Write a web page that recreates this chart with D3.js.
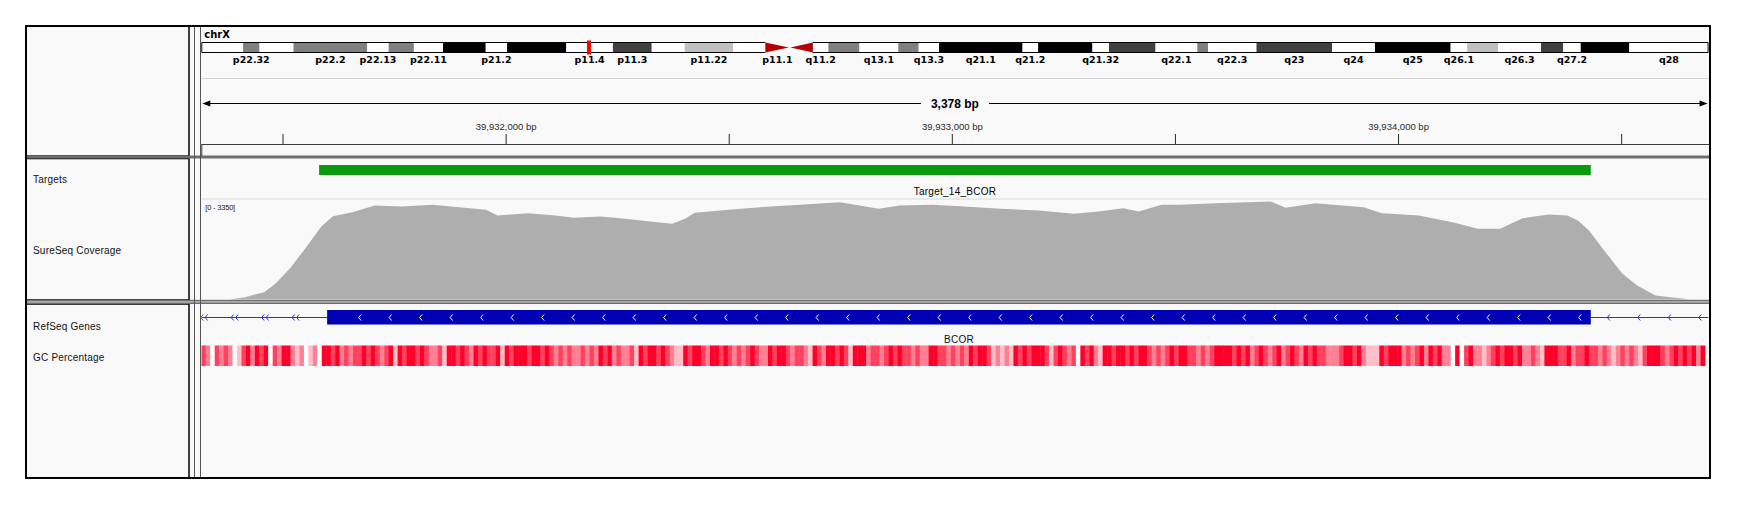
<!DOCTYPE html>
<html>
<head>
<meta charset="utf-8">
<script src="https://cdn.jsdelivr.net/npm/d3@7"></script>
<style>
    body { margin: 0; background: #ffffff; }
    text { font-family: "Liberation Sans", Arial, sans-serif; }
</style>
</head>
<body>
<svg id="IgvView" width="1740" height="505"></svg>
<script>
    // ---- locus ----
    let chromosome = "chrX";
    let chromosomeLength = 155270560;
    let viewStart = 39931318;
    let viewEnd = 39934696; // 3,378 bp
    let rulerTicks = [39931500, 39932000, 39932500, 39933000, 39933500, 39934000, 39934500];

    // ---- ideogram (hg19 chrX) ----
    let bandNames = ["p22.33", "p22.32", "p22.31", "p22.2", "p22.13", "p22.12", "p22.11", "p21.3", "p21.2", "p21.1",
        "p11.4", "p11.3", "p11.23", "p11.22", "p11.21", "p11.1", "q11.1", "q11.2", "q12", "q13.1",
        "q13.2", "q13.3", "q21.1", "q21.2", "q21.31", "q21.32", "q21.33", "q22.1", "q22.2", "q22.3",
        "q23", "q24", "q25", "q26.1", "q26.2", "q26.3", "q27.1", "q27.2", "q27.3", "q28"];
    let bandStartsMb = [0, 4.3, 6.0, 9.5, 17.1, 19.3, 21.9, 24.9, 29.3, 31.5,
        37.6, 42.4, 46.4, 49.8, 54.8, 58.1, 60.6, 63.0, 64.6, 67.8,
        71.8, 73.9, 76.0, 84.6, 86.2, 91.8, 93.5, 98.3, 102.6, 103.7,
        108.7, 116.5, 120.9, 128.7, 130.4, 133.6, 138.0, 140.3, 142.1, 147.1];
    let bandStains = ["gneg", "gpos50", "gneg", "gpos50", "gneg", "gpos50", "gneg", "gpos100", "gneg", "gpos100",
        "gneg", "gpos75", "gneg", "gpos25", "gneg", "acen", "acen", "gneg", "gpos50", "gneg",
        "gpos50", "gneg", "gpos100", "gneg", "gpos100", "gneg", "gpos75", "gneg", "gpos50", "gneg",
        "gpos75", "gneg", "gpos100", "gneg", "gpos25", "gneg", "gpos75", "gneg", "gpos100", "gneg"];
    // labels IGV managed to fit
    let bandLabels = ["p22.32", "p22.2", "p22.13", "p22.11", "p21.2", "p11.4", "p11.3", "p11.22", "p11.1", "q11.2",
        "q13.1", "q13.3", "q21.1", "q21.2", "q21.32", "q22.1", "q22.3", "q23", "q24", "q25",
        "q26.1", "q26.3", "q27.2", "q28"];

    // ---- tracks ----
    let trackNames = ["Targets", "SureSeq Coverage", "RefSeq Genes", "GC Percentage"];
    let targetName = "Target_14_BCOR";
    let targetStart = 39931582;
    let targetEnd = 39934432;
    let geneName = "BCOR";
    let geneExonStart = 39931600;
    let geneExonEnd = 39934432;

    let coverageMax = 3350;
    // bp offset from viewStart, and read depth there
    let coverageOffsetBp = [0, 63, 98, 141, 166, 201, 235, 269, 295, 338,
        389, 449, 518, 578, 638, 664, 732, 793, 835, 894,
        939, 1006, 1055, 1084, 1106, 1162, 1252, 1342, 1431, 1475,
        1518, 1565, 1638, 1700, 1792, 1877, 1955, 2011, 2066, 2101,
        2152, 2193, 2273, 2397, 2430, 2497, 2605, 2646, 2729, 2804,
        2861, 2911, 2961, 3019, 3061, 3085, 3110, 3144, 3185, 3218,
        3259, 3318, 3336, 3378];
    let coverageDepth = [0, 0, 78, 245, 525, 1083, 1753, 2446, 2792, 2926,
        3149, 3116, 3171, 3093, 3004, 2814, 2891, 2814, 2737, 2780,
        2725, 2613, 2535, 2702, 2904, 2981, 3093, 3171, 3260, 3149,
        3037, 3149, 3172, 3127, 3037, 2981, 2870, 2948, 3060, 2948,
        3170, 3171, 3227, 3283, 3071, 3227, 3093, 2891, 2814, 2590,
        2367, 2367, 2725, 2848, 2814, 2647, 2312, 1642, 860, 469,
        134, 33, 0, 0];

    // GC class per 10 bp window from viewStart (0 = low ... 4 = high)
    let gcWindowBp = 10;
    let gcClass = [
        3, 2, 0, 3, 2, 3, 2, 0, 1, 3, 4, 2, 4, 3, 4, 0, 3, 2, 4, 4, 2, 1, 2, 0, 1, 2, 0, 4, 4, 3,
        4, 2, 3, 2, 3, 3, 4, 3, 4, 3, 2, 3, 4, 1, 4, 3, 4, 4, 3, 4, 3, 2, 2, 3, 1, 4, 4, 3, 4, 3,
        2, 4, 3, 4, 3, 3, 4, 1, 4, 3, 4, 4, 4, 3, 4, 4, 3, 4, 3, 2, 3, 2, 3, 2,
        2, 3, 2, 3, 2, 4, 3, 4, 2, 3, 2, 2, 3, 1, 4, 3, 4, 4, 3, 4, 3, 2, 1, 1, 4, 3, 4, 4, 3, 2,
        4, 4, 3, 4, 3, 2, 3, 2, 3, 4, 3, 2, 2, 4, 3, 4, 4, 3, 2, 3, 3, 2, 1, 4, 3, 2, 4, 4, 3, 4,
        3, 1, 4, 4, 4, 2, 3, 3, 2, 3, 4, 3, 4, 3, 3, 2, 3, 2, 2, 4, 4, 3, 3, 2,
        3, 2, 3, 2, 4, 3, 4, 4, 3, 1, 2, 1, 2, 1, 4, 3, 4, 3, 4, 4, 4, 3, 1, 3, 4, 3, 2, 3, 0, 4,
        3, 4, 2, 1, 4, 4, 3, 4, 4, 3, 4, 3, 4, 4, 3, 2, 3, 2, 3, 4, 3, 4, 4, 3, 3, 2, 3, 2, 3, 4,
        4, 4, 4, 3, 4, 3, 4, 2, 3, 4, 3, 2, 3, 4, 2, 3, 4, 3, 2, 4, 3, 4, 3, 3, 2,
        2, 2, 3, 4, 4, 3, 4, 2, 1, 1, 1, 4, 3, 4, 4, 4, 2, 3, 2, 3, 4, 2, 4, 3, 4, 2, 2, 0, 4, 0,
        3, 4, 2, 2, 1, 2, 3, 4, 3, 4, 4, 3, 4, 2, 2, 3, 2, 1, 4, 4, 4, 3, 3, 4, 2, 3, 3, 4, 3, 3,
        2, 3, 2, 1, 2, 3, 2, 3, 2, 1, 3, 4, 4, 4, 3, 2, 3, 4, 3, 4, 3, 4, 2, 4];

    function getLayout() {
        let frame = {left: 26, top: 26, right: 1710, bottom: 478};
        let nameRight = 189;
        let dataLeft = 201.3;
        let dataRight = 1708.6;
        let panels = [
            {top: 26, bottom: 156},
            {top: 158.5, bottom: 300},
            {top: 304, bottom: 478}
        ];
        let container = d3.select("#IgvView");
        return {frame, nameRight, dataLeft, dataRight, panels, container};
    }

    function drawFrame(config) {
        let {container, frame, nameRight, dataLeft, dataRight, panels} = config;
        container.append("rect").attr("width", 1740).attr("height", 505).attr("fill", "#ffffff");

        panels.forEach(p => {
            // data panel
            container.append("rect")
                .attr("x", nameRight).attr("y", p.top)
                .attr("width", frame.right - nameRight).attr("height", p.bottom - p.top)
                .attr("fill", "#f9f9f9");
            // name panel box
            container.append("rect")
                .attr("x", frame.left).attr("y", p.top)
                .attr("width", nameRight - frame.left).attr("height", p.bottom - p.top)
                .attr("fill", "#f9f9f9")
                .attr("stroke", "#000").attr("stroke-width", 1.5)
        })

        // panel dividers
        container.append("rect").attr("x", frame.left).attr("y", 155.5)
            .attr("width", frame.right - frame.left).attr("height", 3).attr("fill", "#6e6e6e");
        container.append("rect").attr("x", frame.left).attr("y", 299.8)
            .attr("width", frame.right - frame.left).attr("height", 4.2).attr("fill", "#6e6e6e");
        container.append("rect").attr("x", frame.left).attr("y", 301.2)
            .attr("width", frame.right - frame.left).attr("height", 1.4).attr("fill", "#bdbdbd");

        // attribute panel edges
        ;[194.5, 200.5].forEach(xp => {
            container.append("line")
                .attr("x1", xp).attr("x2", xp).attr("y1", frame.top).attr("y2", frame.bottom)
                .attr("stroke", "#555").attr("stroke-width", 1)
        })

        container.append("clipPath").attr("id", "dataClip")
            .append("rect").attr("x", dataLeft).attr("y", frame.top)
            .attr("width", dataRight - dataLeft).attr("height", frame.bottom - frame.top);
    }

    function drawOuter(config) {
        let {container, frame} = config;
        container.append("rect")
            .attr("x", frame.left).attr("y", frame.top)
            .attr("width", frame.right - frame.left).attr("height", frame.bottom - frame.top)
            .attr("fill", "none").attr("stroke", "#000").attr("stroke-width", 2);
    }

    function drawIdeogram(config) {
        let {container, dataLeft, dataRight} = config;
        let chrScale = d3.scaleLinear().domain([0, chromosomeLength]).range([dataLeft, dataRight]);
        let stainColor = {gneg: "#ffffff", gpos25: "#c0c0c0", gpos50: "#808080", gpos75: "#404040", gpos100: "#000000"};
        let top = 42.5, h = 10;

        let bands = bandNames.map((name, i) => ({
            name,
            start: bandStartsMb[i] * 1e6,
            end: i + 1 < bandNames.length ? bandStartsMb[i + 1] * 1e6 : chromosomeLength,
            stain: bandStains[i]
        }));

        container.append("text")
            .attr("x", dataLeft + 3).attr("y", 38)
            .style("font-family", "'DejaVu Sans', sans-serif")
            .attr("font-size", 10).attr("font-weight", "bold")
            .text(chromosome);

        let g = container.append("g");
        g.selectAll("rect.band")
            .data(bands.filter(b => b.stain !== "acen"))
            .enter()
            .append("rect")
            .attr("x", d => chrScale(d.start))
            .attr("y", top)
            .attr("width", d => chrScale(d.end) - chrScale(d.start))
            .attr("height", h)
            .attr("fill", d => stainColor[d.stain]);

        let acen = bands.filter(b => b.stain === "acen");
        g.selectAll("path.acen")
            .data(acen)
            .enter()
            .append("path")
            .attr("d", d => {
                let x0 = chrScale(d.start), x1 = chrScale(d.end);
                return d.name.startsWith("p")
                    ? `M${x0},${top}L${x1 - 0.8},${top + h / 2}L${x0},${top + h}Z`
                    : `M${x1},${top}L${x0 + 0.8},${top + h / 2}L${x1},${top + h}Z`
            })
            .attr("fill", "#b40000");

        // outline of both arms
        let cenStart = chrScale(acen[0].start), cenEnd = chrScale(acen[1].end);
        let outline = `M${cenStart},${top}H${dataLeft + 0.5}V${top + h}H${cenStart}` +
            `M${cenEnd},${top}H${dataRight - 0.5}V${top + h}H${cenEnd}`;
        g.append("path").attr("d", outline).attr("fill", "none").attr("stroke", "#000").attr("stroke-width", 1);

        g.selectAll("text.bandLabel")
            .data(bands.filter(b => bandLabels.includes(b.name)))
            .enter()
            .append("text")
            .attr("x", d => chrScale((d.start + d.end) / 2))
            .attr("y", 63)
            .attr("text-anchor", "middle")
            .style("font-family", "'DejaVu Sans', sans-serif")
            .attr("font-size", 9.5).attr("font-weight", "bold")
            .text(d => d.name);

        // current locus marker
        let mid = chrScale((viewStart + viewEnd) / 2);
        g.append("rect")
            .attr("x", mid - 2).attr("y", 40.5).attr("width", 4).attr("height", 14)
            .attr("fill", "#ff0000");
    }

    function drawRuler(config, x) {
        let {container, dataLeft, dataRight} = config;
        container.append("line")
            .attr("x1", dataLeft).attr("x2", dataRight).attr("y1", 78.5).attr("y2", 78.5)
            .attr("stroke", "#d4d4d4");

        let y = 103.5;
        let mid = (dataLeft + dataRight) / 2;
        container.append("line")
            .attr("x1", dataLeft + 4).attr("x2", dataRight - 4).attr("y1", y).attr("y2", y)
            .attr("stroke", "#000").attr("stroke-width", 1);
        container.append("path")
            .attr("d", `M${dataLeft + 1},${y}L${dataLeft + 9},${y - 3}L${dataLeft + 9},${y + 3}Z` +
                `M${dataRight - 1},${y}L${dataRight - 9},${y - 3}L${dataRight - 9},${y + 3}Z`)
            .attr("fill", "#000");
        container.append("rect")
            .attr("x", mid - 34).attr("y", y - 6).attr("width", 68).attr("height", 12)
            .attr("fill", "#f9f9f9");
        container.append("text")
            .attr("x", mid).attr("y", y + 4.5)
            .attr("text-anchor", "middle")
            .attr("font-size", 12).attr("font-weight", "bold")
            .text(d3.format(",")(viewEnd - viewStart) + " bp");

        let axis = d3.axisTop(x)
            .tickValues(rulerTicks)
            .tickSize(10)
            .tickSizeOuter(0)
            .tickPadding(4)
            .tickFormat(d => d % 1000 === 0 ? d3.format(",")(d) + " bp" : "");
        let axisG = container.append("g")
            .attr("transform", "translate(0,144)")
            .call(axis);
        axisG.attr("font-family", "'Liberation Sans', Arial, sans-serif").attr("font-size", 9.5);
        axisG.select(".domain").attr("stroke", "#3c3c3c");
        axisG.selectAll(".tick line").attr("stroke", "#2a2a2a");
        axisG.selectAll(".tick text").attr("fill", "#2a2a2a");

        container.append("line")
            .attr("x1", dataLeft + 0.5).attr("x2", dataLeft + 0.5).attr("y1", 144).attr("y2", 156)
            .attr("stroke", "#3c3c3c");
    }

    function drawTrackNames(config) {
        let {container, frame} = config;
        let baselines = [183, 254, 329.5, 360.5];
        container.selectAll("text.trackName")
            .data(trackNames)
            .enter()
            .append("text")
            .attr("x", frame.left + 7)
            .attr("y", (d, i) => baselines[i])
            .attr("font-size", 10)
            .attr("letter-spacing", 0.2)
            .attr("fill", "#111")
            .text(d => d);
    }

    function drawTargets(config, x) {
        let {container, dataLeft, dataRight} = config;
        let g = container.append("g").attr("clip-path", "url(#dataClip)");
        g.append("rect")
            .attr("x", x(targetStart)).attr("y", 165)
            .attr("width", x(targetEnd) - x(targetStart)).attr("height", 10)
            .attr("fill", "#0c990f");
        g.append("text")
            .attr("x", x((targetStart + targetEnd) / 2)).attr("y", 195)
            .attr("text-anchor", "middle")
            .attr("font-size", 10).attr("letter-spacing", 0.25)
            .text(targetName);
        g.append("line")
            .attr("x1", dataLeft).attr("x2", dataRight).attr("y1", 199).attr("y2", 199)
            .attr("stroke", "#d8d8d8");
    }

    function drawCoverage(config, x) {
        let {container, dataLeft} = config;
        let y = d3.scaleLinear().domain([0, coverageMax]).range([299.5, 199.5]);
        let points = coverageOffsetBp.map((o, i) => ({pos: viewStart + o, depth: coverageDepth[i]}));
        let area = d3.area()
            .x(d => x(d.pos))
            .y0(y(0))
            .y1(d => y(d.depth));
        container.append("g").attr("clip-path", "url(#dataClip)")
            .append("path")
            .datum(points)
            .attr("d", area)
            .attr("fill", "#aeaeae");
        container.append("text")
            .attr("x", dataLeft + 4).attr("y", 209.5)
            .attr("font-size", 7.5).attr("letter-spacing", -0.2)
            .attr("fill", "#222")
            .text(`[0 - ${coverageMax}]`);
    }

    function chevron(cx, cy) {
        return `M${cx + 2.5},${cy - 3}L${cx},${cy}L${cx + 2.5},${cy + 3}`;
    }

    function drawGene(config, x) {
        let {container, dataLeft, dataRight} = config;
        let g = container.append("g").attr("clip-path", "url(#dataClip)");
        let yMid = 317.5;
        let x0 = x(geneExonStart), x1 = x(geneExonEnd);
        let step = 30.5;

        g.append("line")
            .attr("x1", dataLeft).attr("x2", dataRight).attr("y1", yMid).attr("y2", yMid)
            .attr("stroke", "#2f2fd6").attr("stroke-width", 1);

        let intron = "";
        for (let cx = x0 - 35; cx >= dataLeft - 1; cx -= step) {
            intron += chevron(cx, yMid) + chevron(cx + 4.5, yMid);
        }
        for (let cx = x1 + 16.5; cx < dataRight; cx += step) {
            intron += chevron(cx, yMid);
        }
        g.append("path").attr("d", intron).attr("fill", "none")
            .attr("stroke", "#2f2fd6").attr("stroke-width", 1);

        g.append("rect")
            .attr("x", x0).attr("y", 310).attr("width", x1 - x0).attr("height", 14.5)
            .attr("fill", "#0000b4");

        let exon = "";
        for (let cx = x0 + 31.5; cx < x1 - 10; cx += step) {
            exon += chevron(cx, yMid);
        }
        g.append("path").attr("d", exon).attr("fill", "none")
            .attr("stroke", "#ffffff").attr("stroke-width", 1);

        g.append("text")
            .attr("x", (x0 + x1) / 2).attr("y", 343)
            .attr("text-anchor", "middle")
            .attr("font-size", 10).attr("letter-spacing", 0.2)
            .attr("fill", "#111")
            .text(geneName);
    }

    function drawGC(config, x) {
        let {container} = config;
        let color = d3.scaleLinear().domain([0, 4]).range(["#ffffff", "#ff0028"]);
        container.append("g").attr("clip-path", "url(#dataClip)")
            .selectAll("rect")
            .data(gcClass)
            .enter()
            .append("rect")
            .attr("x", (d, i) => x(viewStart + i * gcWindowBp))
            .attr("width", (d, i) => x(Math.min(viewStart + (i + 1) * gcWindowBp, viewEnd)) - x(viewStart + i * gcWindowBp) + 0.4)
            .attr("y", 345.5)
            .attr("height", 20.5)
            .attr("fill", d => color(d));
    }

    function showView() {
        let config = getLayout();
        let x = d3.scaleLinear().domain([viewStart, viewEnd]).range([config.dataLeft, config.dataRight]);
        drawFrame(config);
        drawIdeogram(config);
        drawRuler(config, x);
        drawTrackNames(config);
        drawTargets(config, x);
        drawCoverage(config, x);
        drawGene(config, x);
        drawGC(config, x);
        drawOuter(config);
    }

    showView();
</script>
</body>
</html>
